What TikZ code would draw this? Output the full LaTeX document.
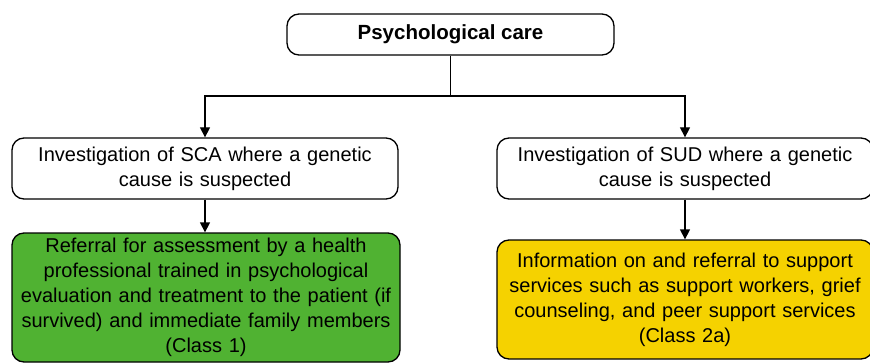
\documentclass[tikz,border=0pt]{standalone}
\usepackage{fontspec}
\setmainfont{Liberation Sans}
\usepackage{xcolor}
\usetikzlibrary{arrows.meta}
\definecolor{classone}{RGB}{80,178,50}
\definecolor{classtwo}{RGB}{245,210,0}

\begin{document}
\begin{tikzpicture}[x=1pt, y=1pt,
  box/.style = {draw, line width=1.3pt, rounded corners=12pt, align=center,
                font=\fontsize{20}{25}\selectfont, inner sep=0pt},
  arr/.style = {line width=1.3pt, -{Triangle[length=10pt, width=10pt]}}]
  \useasboundingbox (0, 0) rectangle (870, 362);
  \node[box, minimum width = 327, minimum height = 41, font=\fontsize{20.5}{25}\selectfont\bfseries]
        (care) at (450.5, 327.5) {Psychological care};
  \node[box, minimum width = 386, minimum height = 61, text width = 380]
        (sca) at (205, 193.5) {Investigation of SCA where a genetic\\cause is suspected};
  \node[box, minimum width = 376, minimum height = 61, text width = 370]
        (sud) at (685, 193.5) {Investigation of SUD where a genetic\\cause is suspected};
  \node[box, fill = classone, minimum width = 388, minimum height = 129, text width = 385]
        (refer) at (206, 64.5) {Referral for assessment by a health\\professional trained in psychological\\evaluation and treatment to the patient (if\\survived) and immediate family members\\(Class 1)};
  \node[box, fill = classtwo, minimum width = 376, minimum height = 119, text width = 370]
        (info) at (685, 62.5) {Information on and referral to support\\services such as support workers, grief\\counseling, and peer support services\\(Class 2a)};
  \coordinate (split) at (care.south |- 0, 266);
  \draw[line width=1.3pt] (care.south) -- (split);
  \draw[arr] (split) -| (sca.north);
  \draw[arr] (split) -| (sud.north);
  \draw[arr] (sca.south) -- (sca.south |- refer.north);
  \draw[arr] (sud.south) -- (sud.south |- info.north);
\end{tikzpicture}
\end{document}
